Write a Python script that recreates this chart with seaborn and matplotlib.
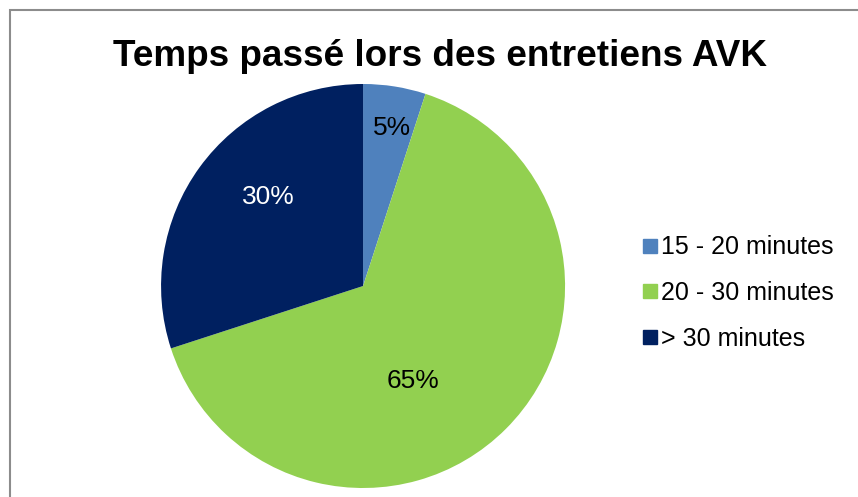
import matplotlib
matplotlib.use("Agg")
import numpy as np
import matplotlib.pyplot as plt
import seaborn as sns
from matplotlib.lines import Line2D
from matplotlib.patches import Rectangle

categories = ["15 - 20 minutes", "20 - 30 minutes", "> 30 minutes"]
values = [5, 65, 30]
colors = ["#4F81BD", "#92D050", "#002060"]
label_colors = ["black", "black", "white"]
# label placement (angle in degrees, radius fraction) as in the reference
label_angles = [79.6, -62.2, 136.9]
label_radii = [0.795, 0.53, 0.645]
title = "Temps passé lors des entretiens AVK"

sns.set_theme(style="white")
plt.rcParams['font.family'] = ['Liberation Sans', 'DejaVu Sans']
plt.rcParams['text.color'] = 'black'

fig = plt.figure(figsize=(8.58, 4.97), dpi=100)
fig.patch.set_facecolor("white")

# border
fig.add_artist(Rectangle((10/858, -0.1), 1.2, (497-10)/497 + 0.1, transform=fig.transFigure,
                         fill=False, edgecolor="#8c8c8c", linewidth=1.5))

ax = fig.add_axes([0.1877, 0.0181, 0.4709, 0.8129])
wedges, texts, autotexts = ax.pie(values, colors=colors, startangle=90, counterclock=False,
                                  autopct="%d%%", pctdistance=0.62,
                                  wedgeprops=dict(linewidth=0),
                                  textprops=dict(fontsize=19))
for t, c, a, r in zip(autotexts, label_colors, label_angles, label_radii):
    t.set_color(c)
    t.set_position((r * np.cos(np.radians(a)), r * np.sin(np.radians(a))))
ax.set_xlim(-1, 1)
ax.set_ylim(-1, 1)
ax.set_aspect("equal")

fig.text(440/858, 1 - 56/497, title, ha="center", va="center", fontsize=26.6,
         fontweight="bold", color="black")

handles = [Line2D([0], [0], marker="s", linestyle="none", markersize=9.5,
                  markerfacecolor=c, markeredgecolor=c) for c in colors]
leg = fig.legend(handles, categories, loc="center left", bbox_to_anchor=(630/858, 1 - 293/497),
                 frameon=False, fontsize=18, handletextpad=0.05, labelspacing=0.87,
                 handlelength=0.8, borderaxespad=0)
for t in leg.get_texts():
    t.set_color("black")

fig.savefig("out.png", dpi=100)
